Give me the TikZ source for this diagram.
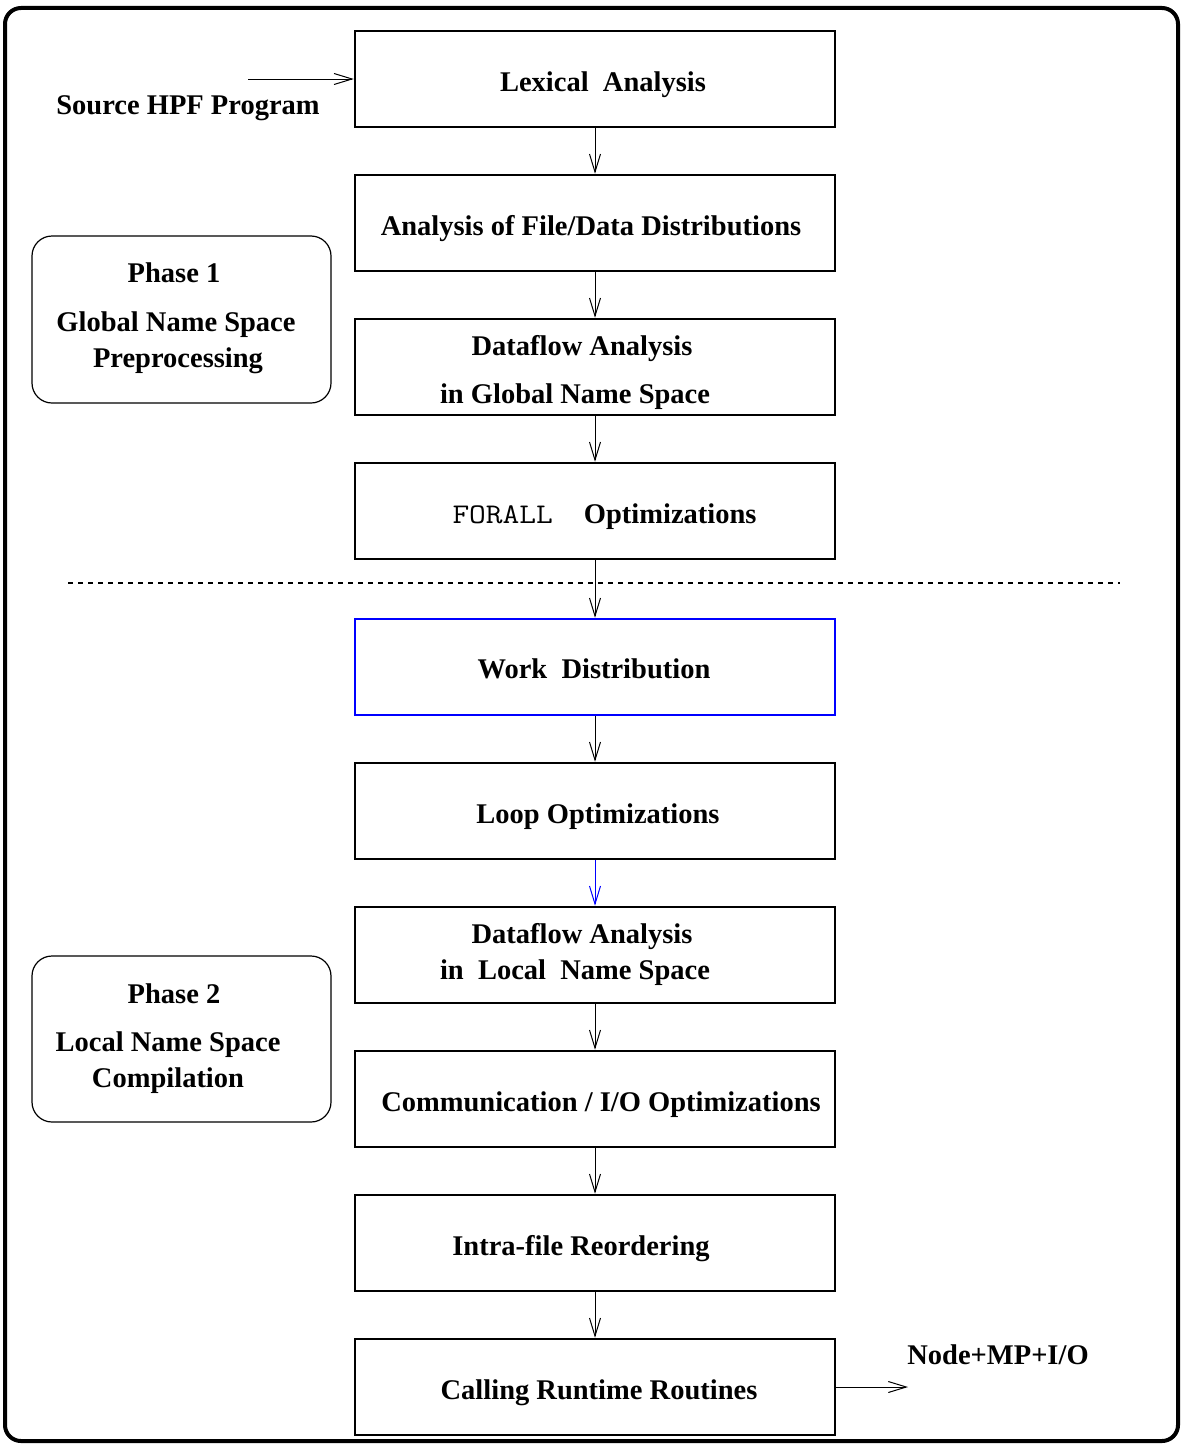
\documentclass[tikz,border=0pt]{standalone}
\usepackage{fontspec}
\setmainfont{Liberation Serif}
\usetikzlibrary{arrows.meta}
\begin{document}
\begin{tikzpicture}[x=1pt,y=-1pt,
  stepbox/.style={draw, line width=2.5pt, minimum width=480pt, minimum height=96pt, inner sep=0pt},
  phasebox/.style={draw, line width=1.2pt, rounded corners=20pt, minimum width=299pt, minimum height=167pt, inner sep=0pt},
  lbl/.style={anchor=base, inner sep=0pt, font=\fontsize{28.5}{30}\selectfont\bfseries},
  arr/.style={line width=1pt, -{Straight Barb[length=18pt,width=11pt,line width=1pt]}},
]
\useasboundingbox (0,0) rectangle (1182,1445);
\draw[line width=4pt, rounded corners=16pt] (5,8) rectangle (1178,1441);

% step boxes
\node[stepbox] (b1) at (595,79) {};
\node[stepbox] (b2) at (595,223) {};
\node[stepbox] (b3) at (595,367) {};
\node[stepbox] (b4) at (595,511) {};
\node[stepbox, draw={rgb,255:red,0;green,0;blue,255}] (b5) at (595,667) {};
\node[stepbox] (b6) at (595,811) {};
\node[stepbox] (b7) at (595,955) {};
\node[stepbox] (b8) at (595,1099) {};
\node[stepbox] (b9) at (595,1243) {};
\node[stepbox] (b10) at (595,1387) {};

% texts in boxes
\node[lbl] (t1) at (603,91.5) {Lexical\ \ Analysis};
\node[lbl] (t2) at (591,235.5) {Analysis of File/Data Distributions};
\node[lbl] (t3a) at (582,355.5) {Dataflow Analysis};
\node[lbl] (t3b) at (575,403.5) {in Global Name Space};
\node[lbl] (t4) at (604.5,523.5) {{\mdseries\ttfamily\scalebox{1.14}[1]{FORALL}}\hspace{31pt}Optimizations};
\node[lbl] (t5) at (594,678.5) {Work\ \ Distribution};
\node[lbl] (t6) at (598,823) {Loop Optimizations};
\node[lbl] (t7a) at (582,943.5) {Dataflow Analysis};
\node[lbl] (t7b) at (575,979.5) {in\ \ Local\ \ Name Space};
\node[lbl] (t8) at (601,1111.5) {Communication / I/O Optimizations};
\node[lbl] (t9) at (581,1255.5) {Intra-file Reordering};
\node[lbl] (t10) at (599,1399.5) {Calling Runtime Routines};

% outside texts
\node[lbl] (src) at (188,114.5) {Source HPF Program};
\node[lbl] (outl) at (998,1364.5) {Node+MP+I/O};

% phase boxes
\node[phasebox] (p1) at (181.5,319.5) {};
\node[lbl] (p1a) at (174,282.5) {Phase 1};
\node[lbl] (p1b) at (176,331.5) {Global Name Space};
\node[lbl] (p1c) at (178,367.5) {Preprocessing};
\node[phasebox, minimum height=166pt] (p2) at (181.5,1039) {};
\node[lbl] (p2a) at (174,1003.5) {Phase 2};
\node[lbl] (p2b) at (168,1051.5) {Local Name Space};
\node[lbl] (p2c) at (168,1087.5) {Compilation};

% dashed separator
\coordinate (dl) at (68,583);
\coordinate (dr) at (1120,583);
\draw[line width=1.5pt, dash pattern=on 5pt off 5pt] (dl) -- (dr);

% connectors
\coordinate (srcend) at (248,79);
\coordinate (outend) at (908,1387);
\draw[arr] (srcend) -- (b1);
\draw[arr] (b1) -- (b2);
\draw[arr] (b2) -- (b3);
\draw[arr] (b3) -- (b4);
\draw[arr] (b4) -- (b5);
\draw[arr] (b5) -- (b6);
\draw[arr, draw={rgb,255:red,0;green,0;blue,255}] (b6) -- (b7);
\draw[arr] (b7) -- (b8);
\draw[arr] (b8) -- (b9);
\draw[arr] (b9) -- (b10);
\draw[arr] (b10) -- (outend);
\end{tikzpicture}
\end{document}
